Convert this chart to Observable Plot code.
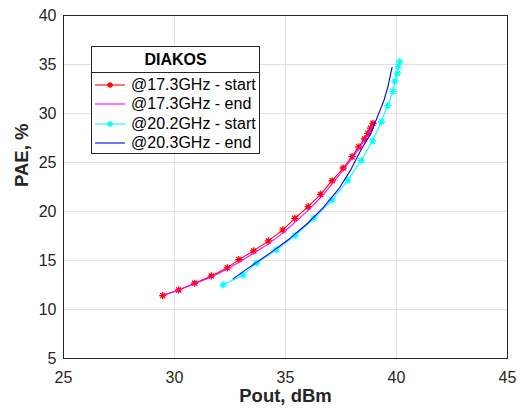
<!DOCTYPE html>
<html><head><meta charset="utf-8">
<script src="https://cdn.jsdelivr.net/npm/d3@7"></script>
<script src="https://cdn.jsdelivr.net/npm/@observablehq/plot@0.6"></script>
<style>
body{margin:0;background:#fff;font-family:"Liberation Sans",Arial,sans-serif;color:#262626;}
#wrap{position:relative;width:523px;height:412px;}
#legend{position:absolute;left:91px;top:46px;width:169px;height:108px;border:1px solid #262626;background:#fff;box-sizing:border-box;font-size:16px;color:#000;}
#legend .title{height:25px;border-bottom:1px solid #262626;text-align:center;font-weight:bold;line-height:25px;}
#legend .rows{padding-top:2px;}
#legend .row{height:19.5px;display:flex;align-items:center;white-space:nowrap;}
#legend svg{margin-left:3px;margin-right:6px;flex:none;}
</style></head><body><div id="wrap"></div>
<script>
const xTicks = [25, 30, 35, 40, 45];
const yTicks = [5, 10, 15, 20, 25, 30, 35, 40];
const xLabel = "Pout, dBm";
const yLabel = "PAE, %";
const legendTitle = "DIAKOS";
const seriesNames = ["@17.3GHz - start", "@17.3GHz - end", "@20.2GHz - start", "@20.3GHz - end"];
const seriesColors = ["#ff0000", "#ff00ff", "#00ffff", "#0000ff"];
const seriesMarkers = [true, false, true, false];

const pout17Start = [29.47,30.19,30.91,31.66,32.38,32.90,33.56,34.23,34.88,35.42,36.02,36.58,37.10,37.60,38.00,38.30,38.56,38.71,38.83,38.94];
const pae17Start  = [11.42,12.00,12.68,13.43,14.25,15.09,15.98,17.00,18.12,19.30,20.49,21.75,23.14,24.44,25.60,26.60,27.40,27.97,28.50,29.00];

const pout17End = [29.50,30.20,30.90,31.70,32.40,33.00,33.60,34.30,34.90,35.50,36.10,36.65,37.15,37.60,38.00,38.35,38.60,38.80,38.95];
const pae17End  = [11.45,12.00,12.62,13.35,14.15,14.95,15.80,16.80,17.85,19.05,20.30,21.60,22.95,24.25,25.45,26.55,27.45,28.25,28.85];

const pout20Start = [32.19,33.09,33.69,34.58,35.44,36.28,37.10,37.81,38.41,38.92,39.32,39.60,39.84,39.93,40.04,40.08,40.14];
const pae20Start  = [12.51,13.53,14.72,16.08,17.54,19.30,21.17,23.20,25.20,27.20,29.16,30.80,32.25,33.30,34.08,34.80,35.30];

const pout20End = [32.64,33.40,34.30,35.20,36.00,36.70,37.40,37.95,38.38,38.83,39.13,39.43,39.62,39.80];
const pae20End  = [13.12,14.35,15.75,17.25,18.80,20.40,22.30,24.30,26.20,27.90,29.60,31.30,32.80,34.70];

const xs = [pout17Start, pout17End, pout20Start, pout20End];
const ys = [pae17Start, pae17End, pae20Start, pae20End];
const series = seriesNames.map((name, i) => xs[i].map((x, j) => ({name, x, y: ys[i][j]})));

const star = {
  draw(ctx, size) {
    const a = Math.sqrt(size / Math.PI), d = a * Math.SQRT1_2;
    ctx.moveTo(-a, 0); ctx.lineTo(a, 0);
    ctx.moveTo(0, -a); ctx.lineTo(0, a);
    ctx.moveTo(-d, -d); ctx.lineTo(d, d);
    ctx.moveTo(-d, d); ctx.lineTo(d, -d);
  }
};

const marks = [
  Plot.gridX(xTicks, {stroke: "#e0e0e0", strokeOpacity: 1, strokeWidth: 1}),
  Plot.gridY(yTicks, {stroke: "#e0e0e0", strokeOpacity: 1, strokeWidth: 1}),
];
const order = [0, 1, 2, 3];
for (const i of order) {
  marks.push(Plot.line(series[i], {x: "x", y: "y", stroke: seriesColors[i], strokeWidth: 1.1}));
  if (seriesMarkers[i]) marks.push(Plot.dot(series[i], {x: "x", y: "y", symbol: star, r: 3.6, stroke: seriesColors[i], strokeWidth: 1.3, fill: "none"}));
}
marks.push(
  Plot.frame({stroke: "#262626", strokeWidth: 1}),
  Plot.axisX(xTicks, {tickSize: 0, tickPadding: 13, label: null, fontSize: 16}),
  Plot.axisY(yTicks, {tickSize: 0, tickPadding: 7, label: null, fontSize: 16}),
  Plot.text([xLabel], {text: d => d, frameAnchor: "bottom", dy: 43, fontSize: 18.5, fontWeight: "bold", fill: "#262626"}),
  Plot.text([yLabel], {text: d => d, frameAnchor: "left", dx: -41, rotate: -90, fontSize: 18.5, fontWeight: "bold", fill: "#262626"})
);

const chart = Plot.plot({
  width: 523, height: 412,
  marginLeft: 63, marginRight: 16, marginTop: 15, marginBottom: 54,
  x: {domain: [25, 45]},
  y: {domain: [5, 40]},
  style: {fontFamily: "'Liberation Sans', Arial, sans-serif", color: "#262626", background: "#fff"},
  marks
});
const wrap = document.getElementById("wrap");
wrap.appendChild(chart);

const leg = document.createElement("div");
leg.id = "legend";
let html = `<div class="title">${legendTitle}</div><div class="rows">`;
seriesNames.forEach((n, i) => {
  const c = seriesColors[i];
  const mk = seriesMarkers[i] ? `<path d="M12,5h6M15,2v6M12.9,2.9l4.2,4.2M12.9,7.1l4.2,-4.2" stroke="${c}" stroke-width="1.3"/>` : "";
  html += `<div class="row"><svg width="30" height="10"><line x1="0" x2="30" y1="5" y2="5" stroke="${c}" stroke-width="1.1"/>${mk}</svg><span>${n}</span></div>`;
});
html += `</div>`;
leg.innerHTML = html;
wrap.appendChild(leg);
</script>
</body></html>
